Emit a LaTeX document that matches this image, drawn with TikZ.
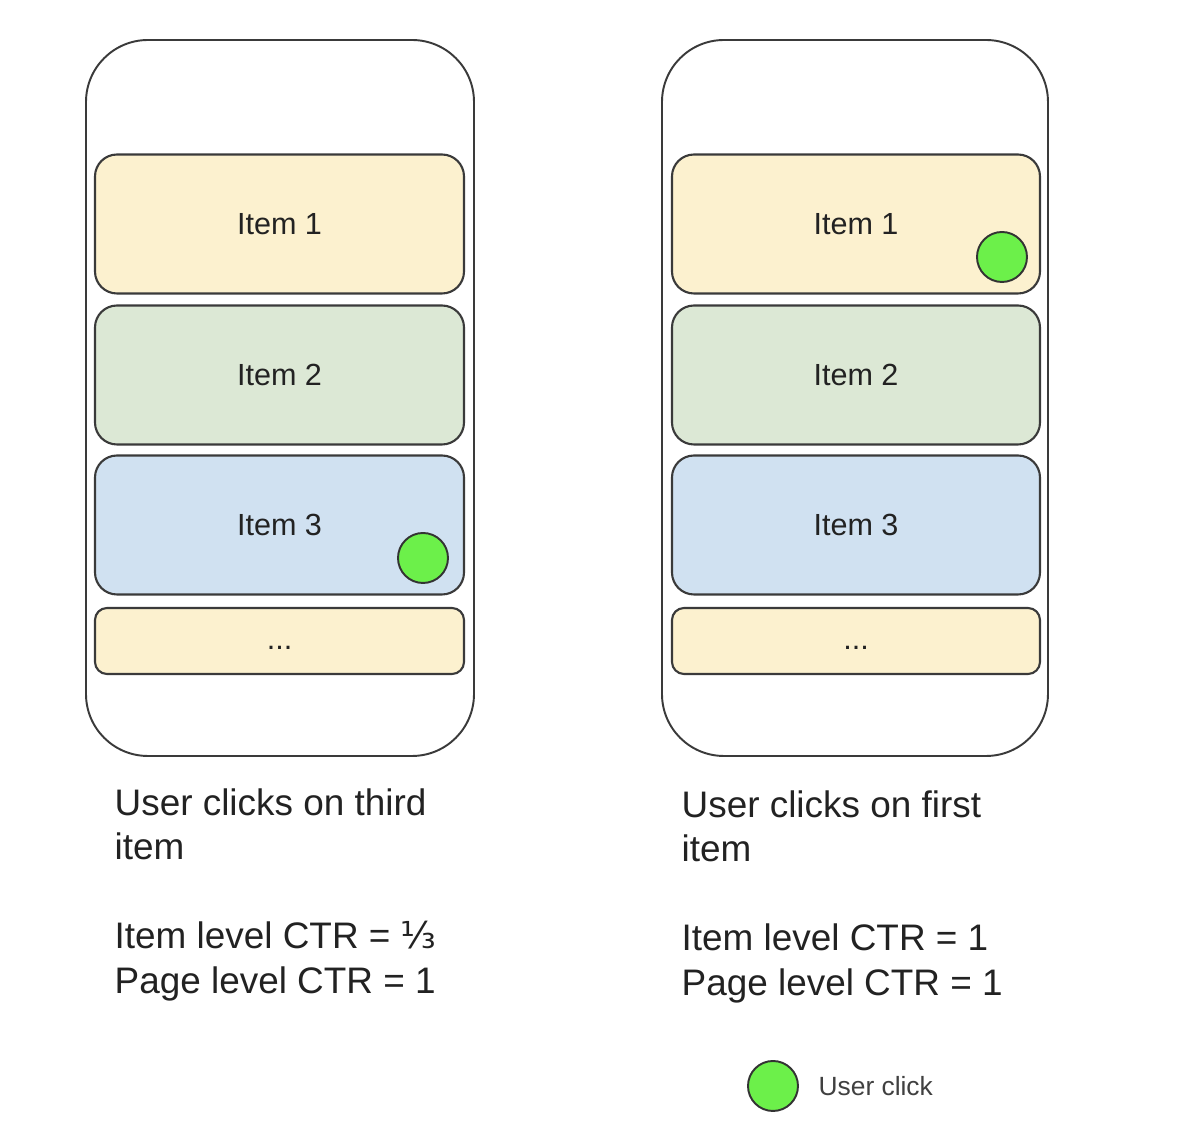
\documentclass[tikz,border=0pt]{standalone}
\usepackage{fontspec}
\setmainfont{Liberation Sans}
\newfontfamily\symfont{DejaVu Sans}
\usetikzlibrary{positioning}
\usepackage{xcolor}

\definecolor{itemyellow}{HTML}{FCF1CF}
\definecolor{itemgreen}{HTML}{DCE8D5}
\definecolor{itemblue}{HTML}{D0E1F1}
\definecolor{clickgreen}{HTML}{6CF04A}
\definecolor{outline}{HTML}{3A3A3A}
\definecolor{inktext}{HTML}{222222}

\begin{document}
\begin{tikzpicture}[
    phone/.style={draw=outline, line width=0.55pt, rectangle, minimum width=3.88cm,
        minimum height=7.16cm, rounded corners=0.62cm},
    item/.style={draw=outline, line width=0.6pt, rectangle, minimum width=3.69cm,
        minimum height=1.39cm, rounded corners=0.22cm, text=inktext,
        font=\fontsize{8.7}{10}\selectfont},
    moreitem/.style={item, fill=itemyellow, minimum height=0.66cm, rounded corners=0.12cm,
        text height=0.5em, text depth=0pt},
    click/.style={draw=black!80, line width=0.55pt, circle, fill=clickgreen,
        minimum size=0.5cm, inner sep=0pt},
    caption/.style={anchor=north west, inner sep=0pt, align=left, text=inktext,
        font=\fontsize{10.5}{12.66}\selectfont}
]
\useasboundingbox (0,0) rectangle (11.82,11.34);

% Left phone
\node[phone] (phoneL) at (2.80, 7.36) {};
\node[item, fill=itemyellow] (itemL1) at (2.795, 9.10) {Item 1};
\node[item, fill=itemgreen] (itemL2) at (2.795, 7.59) {Item 2};
\node[item, fill=itemblue] (itemL3) at (2.795, 6.09) {Item 3};
\node[moreitem] (itemL4) at (2.795, 4.93) {...};
\node[click] (clickL) at (4.23, 5.76) {};

% Right phone
\node[phone, minimum width=3.86cm] (phoneR) at (8.55, 7.36) {};
\node[item, fill=itemyellow, minimum width=3.68cm] (itemR1) at (8.56, 9.10) {Item 1};
\node[item, fill=itemgreen, minimum width=3.68cm] (itemR2) at (8.56, 7.59) {Item 2};
\node[item, fill=itemblue, minimum width=3.68cm] (itemR3) at (8.56, 6.09) {Item 3};
\node[moreitem, minimum width=3.68cm] (itemR4) at (8.56, 4.93) {...};
\node[click] (clickR) at (10.02, 8.77) {};

% Captions under each phone
\node[caption] (captionL) at (1.14, 3.46)
    {User clicks on third\\item\\[12.66pt]Item level CTR = {\symfont ⅓}\\Page level CTR = 1};
\node[caption] (captionR) at (6.81, 3.44)
    {User clicks on first\\item\\[12.66pt]Item level CTR = 1\\Page level CTR = 1};

% Legend
\node[click] (legend) at (7.73, 0.48) {};
\node[right=0.19cm of legend, inner sep=0pt, text=black!75,
    font=\fontsize{7.5}{9}\selectfont] (legendtext) {User click};

\end{tikzpicture}
\end{document}
